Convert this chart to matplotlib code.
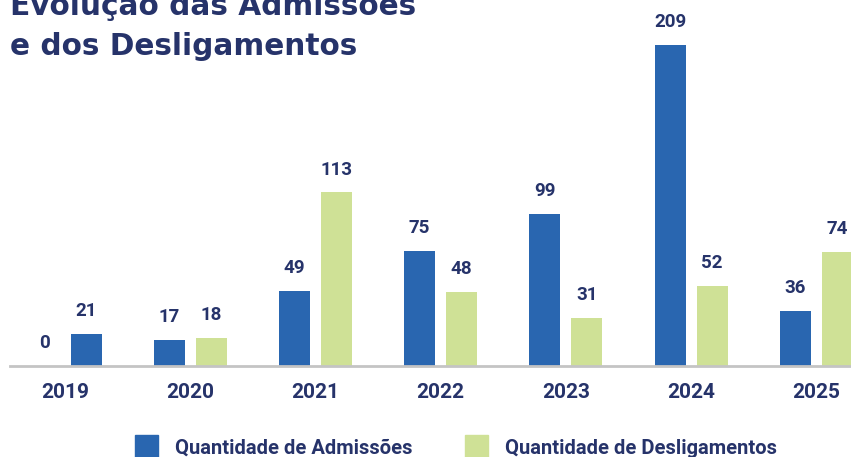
import matplotlib
matplotlib.use("Agg")
import matplotlib.pyplot as plt
from matplotlib.patches import Patch

NAVY = "#26336a"
BLUE = "#2966b0"
GREEN = "#cfe196"
RULE = "#c4c4c4"

anos = ["2019", "2020", "2021", "2022", "2023", "2024", "2025"]
admissoes = [0, 17, 49, 75, 99, 209, 36]
desligamentos = [21, 18, 113, 48, 31, 52, 74]
# the 2019 second bar is drawn blue in the source chart
cores_deslig = [BLUE, GREEN, GREEN, GREEN, GREEN, GREEN, GREEN]

plt.rcParams["font.family"] = ["Roboto", "DejaVu Sans"]

fig = plt.figure(figsize=(8.51, 4.57), dpi=100)
W, H = 851, 457
base = 366
ax = fig.add_axes([0, (H - base) / H, 1, base / H])

step = 125.2
x0 = 65
ax.set_xlim(-x0 / step, (W - x0) / step)
ax.set_ylim(0, base / 1.536)

xs = list(range(len(anos)))
off = 21 / step
bw = 31 / step
b1 = ax.bar([x - off for x in xs], admissoes, width=bw, color=BLUE)
b2 = ax.bar([x + off for x in xs], desligamentos, width=bw, color=cores_deslig)

for bars, vals in ((b1, admissoes), (b2, desligamentos)):
    for r, v in zip(bars, vals):
        ax.annotate(str(v), (r.get_x() + r.get_width() / 2, v),
                    xytext=(0, 10), textcoords="offset points",
                    ha="center", va="bottom", fontsize=13.5,
                    fontweight="bold", color=NAVY)

for s in ("top", "right", "left"):
    ax.spines[s].set_visible(False)
ax.spines["bottom"].set_color(RULE)
ax.spines["bottom"].set_linewidth(2)
ax.spines["bottom"].set_bounds(-55 / step, (W - x0) / step)
ax.set_yticks([])
ax.set_xticks(xs)
ax.set_xticklabels(anos, fontsize=15, fontweight="bold", color=NAVY)
ax.tick_params(axis="x", length=0, pad=12)

for txt, yb in (("Evolução das Admissões", 15), ("e dos Desligamentos", 55)):
    fig.text(10 / W, 1 - yb / H, txt, fontsize=21.3, fontweight="bold",
             color=NAVY, va="baseline", ha="left", family="DejaVu Sans")

handles = [Patch(color=BLUE, label="Quantidade de Admissões"),
           Patch(color=GREEN, label="Quantidade de Desligamentos")]
leg = fig.legend(handles=handles, ncol=2, loc="upper left",
                 bbox_to_anchor=(135 / W, 1 - 435 / H), frameon=False,
                 borderpad=0, borderaxespad=0,
                 fontsize=14.5, handlelength=1.14, handleheight=1.45,
                 columnspacing=2.6, handletextpad=0.85)
for t in leg.get_texts():
    t.set_color(NAVY)
    t.set_fontweight("bold")

fig.savefig("out.png", dpi=100)
